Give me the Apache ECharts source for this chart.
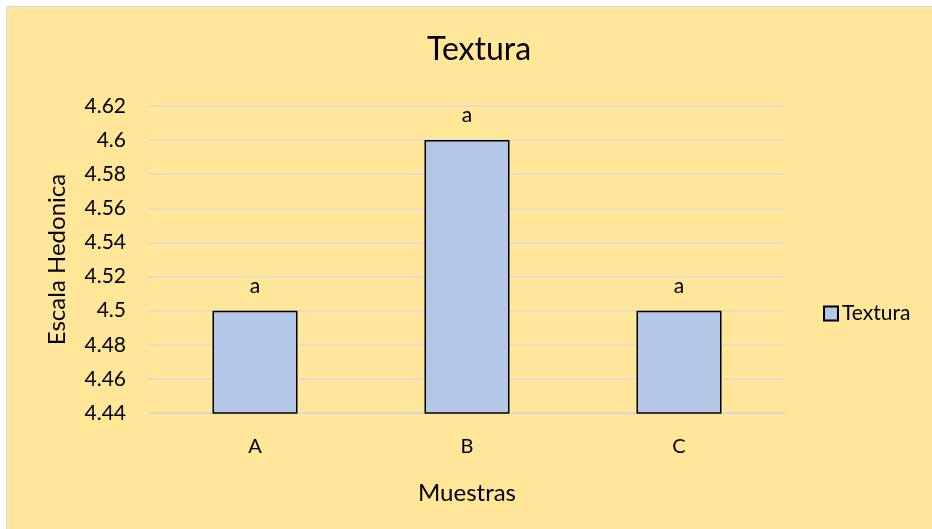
<!DOCTYPE html>
<html>
<head>
<meta charset="utf-8">
<script src="https://cdn.jsdelivr.net/npm/echarts@6/dist/echarts.min.js"></script>
<style>
  html, body { margin: 0; padding: 0; background: #fff; }
  #wrap { position: absolute; left: 6px; top: 6px; width: 926px; height: 523px;
          border-left: 1px solid #d9d9d9; border-top: 1px solid #d9d9d9; background: #ffe699; }
  #chart { width: 926px; height: 523px; }
</style>
</head>
<body>
<div id="wrap"><div id="chart"></div></div>
<script>
  // datos
  const muestras = ['A', 'B', 'C']
  const textura = [4.5, 4.6, 4.5]
  const letras = ['a', 'a', 'a']

  const fuente = 'Lato'
  const myChart = echarts.init(document.getElementById('chart'))
  const option = {
    textStyle: { fontFamily: fuente, color: '#000' },
    title: {
      text: 'Textura',
      left: 467,
      top: 22,
      textAlign: 'center',
      textStyle: { fontFamily: fuente, fontSize: 32, fontWeight: 'normal', color: '#000' }
    },
    legend: {
      data: ['Textura'],
      left: 811,
      top: 291,
      itemWidth: 14,
      itemHeight: 14,
      itemGap: 4,
      icon: 'rect',
      textStyle: { fontFamily: fuente, fontSize: 21, color: '#000', padding: [0, 0, 0, -1] }
    },
    grid: { left: 142, top: 99, width: 636, height: 307 },
    xAxis: {
      type: 'category',
      data: muestras,
      name: 'Muestras',
      nameLocation: 'middle',
      nameGap: 68,
      nameTextStyle: { fontSize: 24, color: '#000' },
      axisTick: { show: false },
      axisLine: { lineStyle: { color: '#d9d9d9', width: 1.5 } },
      axisLabel: { fontSize: 20, color: '#000', margin: 24 }
    },
    yAxis: {
      type: 'value',
      min: 4.44,
      max: 4.62,
      interval: 0.02,
      name: 'Escala Hedonica',
      nameLocation: 'middle',
      nameGap: 80,
      nameTextStyle: { fontSize: 24, color: '#000' },
      axisLine: { show: false },
      axisTick: { show: false },
      axisLabel: { fontSize: 21, color: '#000', margin: 23 },
      splitLine: { lineStyle: { color: '#d9d9d9', width: 1.5 } }
    },
    series: [{
      name: 'Textura',
      type: 'bar',
      data: textura,
      barWidth: 85,
      itemStyle: { color: '#b4c7e7', borderColor: '#000', borderWidth: 1.5 },
      label: {
        show: true,
        position: 'top',
        distance: 14,
        fontSize: 21,
        color: '#000',
        formatter: p => letras[p.dataIndex]
      }
    }]
  }
  myChart.setOption(option)
</script>
</body>
</html>
